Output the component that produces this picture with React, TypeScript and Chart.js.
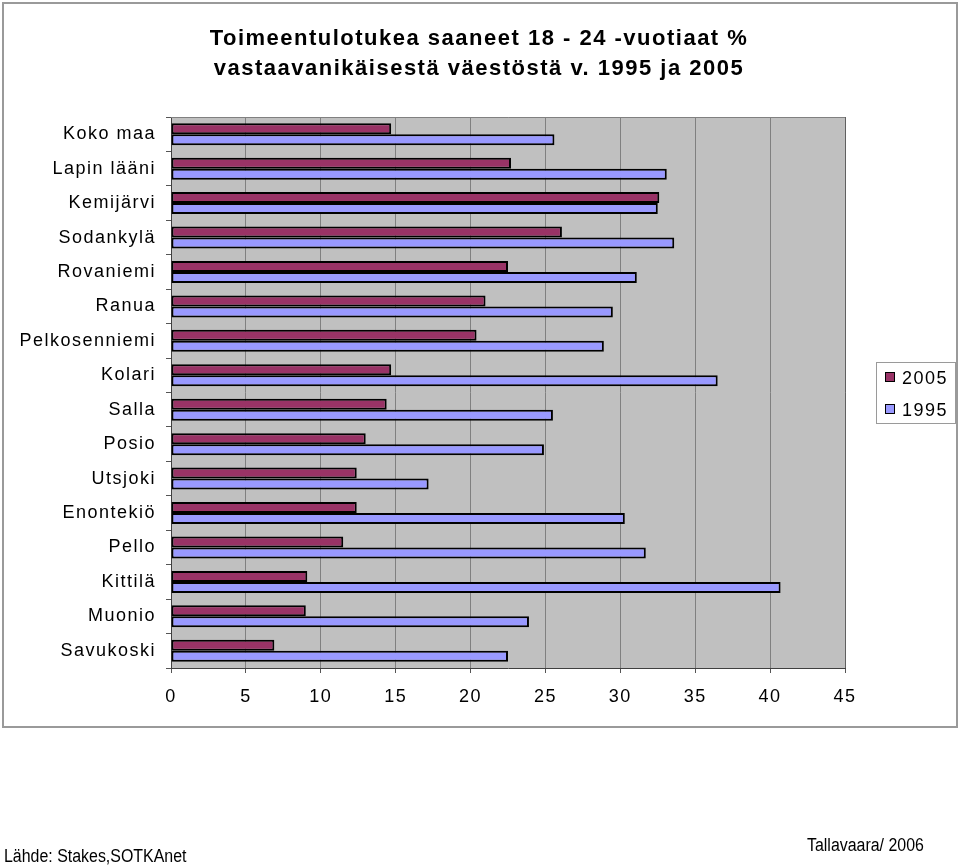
import React, { useEffect, useRef } from 'react';
import { Chart, registerables } from 'chart.js';

Chart.register(...registerables);

const categories = [
  'Koko maa', 'Lapin lääni', 'Kemijärvi', 'Sodankylä', 'Rovaniemi', 'Ranua',
  'Pelkosenniemi', 'Kolari', 'Salla', 'Posio', 'Utsjoki', 'Enontekiö',
  'Pello', 'Kittilä', 'Muonio', 'Savukoski',
];
const values2005 = [14.7, 22.7, 32.6, 26.1, 22.5, 21.0, 20.4, 14.7, 14.4, 13.0, 12.4, 12.4, 11.5, 9.1, 9.0, 6.9];
const values1995 = [25.6, 33.1, 32.5, 33.6, 31.1, 29.5, 28.9, 36.5, 25.5, 24.9, 17.2, 30.3, 31.7, 40.7, 23.9, 22.5];
const seriesLabels = ['2005', '1995'];
const xMin = 0;
const xMax = 45;
const xStep = 5;
const titleLines = [
  'Toimeentulotukea saaneet 18 - 24 -vuotiaat %',
  'vastaavanikäisestä väestöstä v. 1995 ja 2005',
];
const sourceText = 'Lähde: Stakes,SOTKAnet';
const authorText = 'Tallavaara/ 2006';

const FONT = "'Liberation Sans', Arial, Helvetica, sans-serif";
const SPACING = '1.5px';

const decorPlugin = {
  id: 'decor',
  beforeUpdate(chart: any) {
    chart.ctx.letterSpacing = SPACING;
  },
  beforeDraw(chart: any) {
    const { ctx, chartArea: a } = chart;
    ctx.save();
    ctx.fillStyle = '#ffffff';
    ctx.fillRect(0, 0, chart.width, chart.height);
    ctx.strokeStyle = '#9a9a9a';
    ctx.lineWidth = 2;
    ctx.strokeRect(3, 3, 954, 724);
    ctx.fillStyle = '#c0c0c0';
    ctx.fillRect(a.left, a.top, a.right - a.left, a.bottom - a.top);

    // title
    ctx.fillStyle = '#000';
    ctx.font = `bold 22px ${FONT}`;
    ctx.letterSpacing = SPACING;
    ctx.textAlign = 'center';
    ctx.textBaseline = 'alphabetic';
    titleLines.forEach((t, i) => ctx.fillText(t, 479, 45 + i * 29.5));
    ctx.restore();
    ctx.letterSpacing = SPACING;
  },
  afterDraw(chart: any) {
    const { ctx, chartArea: a } = chart;
    ctx.save();
    // plot frame top & right
    ctx.strokeStyle = '#808080';
    ctx.lineWidth = 1;
    ctx.beginPath();
    ctx.moveTo(a.left, a.top + 0.5);
    ctx.lineTo(a.right + 0.5, a.top + 0.5);
    ctx.stroke();
    ctx.strokeStyle = '#606060';
    ctx.beginPath();
    ctx.moveTo(a.right + 0.5, a.top);
    ctx.lineTo(a.right + 0.5, a.bottom);
    ctx.stroke();

    // legend
    ctx.strokeStyle = '#9a9a9a';
    ctx.lineWidth = 1;
    ctx.strokeRect(876.5, 362.5, 79, 61);
    ctx.font = `18px ${FONT}`;
    ctx.letterSpacing = SPACING;
    ctx.textBaseline = 'alphabetic';
    ctx.textAlign = 'left';
    chart.data.datasets.forEach((ds: any, i: number) => {
      const cy = 377 + i * 32;
      ctx.fillStyle = ds.backgroundColor;
      ctx.fillRect(885, cy - 5, 10, 10);
      ctx.strokeStyle = '#000';
      ctx.strokeRect(885.5, cy - 4.5, 9, 9);
      ctx.fillStyle = '#000';
      ctx.fillText(ds.label, 902, cy + 6.5);
    });

    // footers (condensed)
    ctx.letterSpacing = '0px';
    ctx.font = `18px ${FONT}`;
    ctx.fillStyle = '#000';
    const sx = 0.885;
    ctx.save();
    ctx.scale(sx, 1);
    ctx.fillText(sourceText, 4 / sx, 862);
    ctx.fillText(authorText, 807 / sx, 851);
    ctx.restore();
    ctx.restore();
    ctx.letterSpacing = SPACING;
  },
};

export default function App() {
  const ref = useRef<HTMLCanvasElement>(null);

  useEffect(() => {
    document.body.style.margin = '0';
    const canvas = ref.current;
    if (!canvas) return;
    const chart = new Chart(canvas, {
      type: 'bar',
      data: {
        labels: categories,
        datasets: [
          {
            label: seriesLabels[0],
            data: values2005,
            backgroundColor: '#993366',
            borderColor: '#000000',
            borderWidth: 2,
            borderSkipped: false,
            barPercentage: 1,
            categoryPercentage: 0.64,
          },
          {
            label: seriesLabels[1],
            data: values1995,
            backgroundColor: '#9999ff',
            borderColor: '#000000',
            borderWidth: 2,
            borderSkipped: false,
            barPercentage: 1,
            categoryPercentage: 0.64,
          },
        ],
      },
      options: {
        indexAxis: 'y',
        responsive: false,
        animation: false,
        devicePixelRatio: 1,
        layout: { padding: { left: 0, right: 115, top: 117, bottom: 137 } },
        font: { family: FONT },
        plugins: {
          legend: { display: false },
          tooltip: { enabled: false },
          title: { display: false },
        },
        scales: {
          x: {
            type: 'linear',
            min: xMin,
            max: xMax,
            afterFit: (s: any) => { s.height = 60; },
            ticks: {
              stepSize: xStep,
              autoSkip: false,
              maxRotation: 0,
              color: '#000',
              padding: 13,
              font: { family: FONT, size: 18 },
            },
            grid: {
              color: '#808080',
              lineWidth: 1,
              drawTicks: true,
              tickLength: 5,
              tickColor: '#555555',
            },
            border: { color: '#404040', width: 1 },
          },
          y: {
            type: 'category',
            afterFit: (s: any) => { s.width = 171; },
            ticks: {
              color: '#000',
              padding: 10,
              autoSkip: false,
              font: { family: FONT, size: 18 },
            },
            grid: {
              drawOnChartArea: false,
              drawTicks: true,
              tickLength: 5,
              tickColor: '#555555',
              offset: true,
            },
            border: { color: '#404040', width: 1 },
          },
        },
      },
      plugins: [decorPlugin],
    } as any);
    return () => chart.destroy();
  }, []);

  return (
    <div style={{ position: 'relative', width: 960, height: 865 }}>
      <canvas ref={ref} width={960} height={865} style={{ display: 'block' }} />
    </div>
  );
}
